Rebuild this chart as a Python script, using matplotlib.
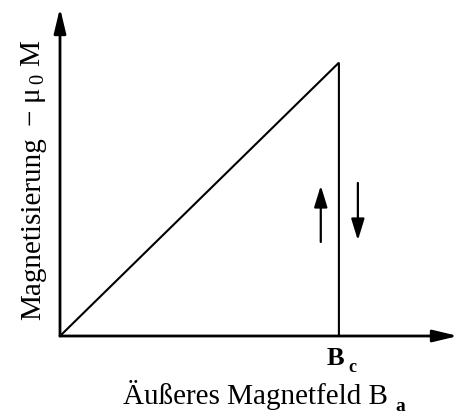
import matplotlib.pyplot as plt

plt.rcParams["font.family"] = "Liberation Serif"
plt.rcParams["mathtext.fontset"] = "custom"
plt.rcParams["mathtext.rm"] = "Liberation Serif"
plt.rcParams["mathtext.it"] = "Liberation Serif:italic"
plt.rcParams["mathtext.bf"] = "Liberation Serif:bold"

W, H = 460, 418

# field in units of Bc, magnetisation in units of its value at Bc
field = [0.0, 1.0, 1.0]
magnetisation = [0.0, 1.0, 0.0]
x_max, y_max = 1.427, 1.2

# direction markers on the jump at Bc: (x, y_start, y_end)
up_arrow = (0.935, 0.344, 0.55)
down_arrow = (1.068, 0.56, 0.35)

fig = plt.figure(figsize=(W / 100, H / 100), dpi=100)
ax = fig.add_axes([60 / W, 82 / H, (458 - 60) / W, (336 - 8) / H])
ax.set_xlim(0, x_max)
ax.set_ylim(0, y_max)
ax.axis("off")

ax.plot(field, magnetisation, color="black", lw=1.5, solid_joinstyle="miter",
        clip_on=False)

axis_style = dict(arrowstyle="-|>,head_length=1.5,head_width=0.36",
                  color="black", lw=2.0, shrinkA=0, shrinkB=0)
ax.annotate("", xy=(x_max, 0), xytext=(0, 0), arrowprops=axis_style,
            annotation_clip=False)
ax.annotate("", xy=(0, y_max), xytext=(0, 0), arrowprops=axis_style,
            annotation_clip=False)

marker_style = dict(arrowstyle="-|>,head_length=1.3,head_width=0.4",
                    color="black", lw=1.6, shrinkA=0, shrinkB=0)
for x, y0, y1 in (up_arrow, down_arrow):
    ax.annotate("", xy=(x, y1), xytext=(x, y0), arrowprops=marker_style)


def px(x, y):
    # pixel position measured from the top left -> figure fraction
    return x / W, 1 - y / H


def subscript(main, text, gap, drop, size):
    fig.canvas.draw()
    bb = main.get_window_extent(fig.canvas.get_renderer())
    fig.text((bb.x1 + gap) / W, (bb.y0 + 4 - drop) / H, text,
             ha="left", va="baseline", fontsize=size, fontweight="bold")


# B_c under the jump
bc = fig.text(*px(335, 365), "B", ha="center", va="baseline",
              fontsize=19, fontweight="bold")
subscript(bc, "c", 5, 6, 13)

# axis titles
xlab = fig.text(*px(123, 404), "Äußeres Magnetfeld B", ha="left",
                va="baseline", fontsize=21)
subscript(xlab, "a", 7, 5, 14)

fig.text(*px(33, 320), "Magnetisierung", ha="center", va="bottom",
         rotation=90, fontsize=21)
fig.text(*px(33, 127), r"$-$ μ$_{\,0}$ M", ha="center", va="bottom",
         rotation=90, fontsize=21)

fig.savefig("out.png", dpi=100)
